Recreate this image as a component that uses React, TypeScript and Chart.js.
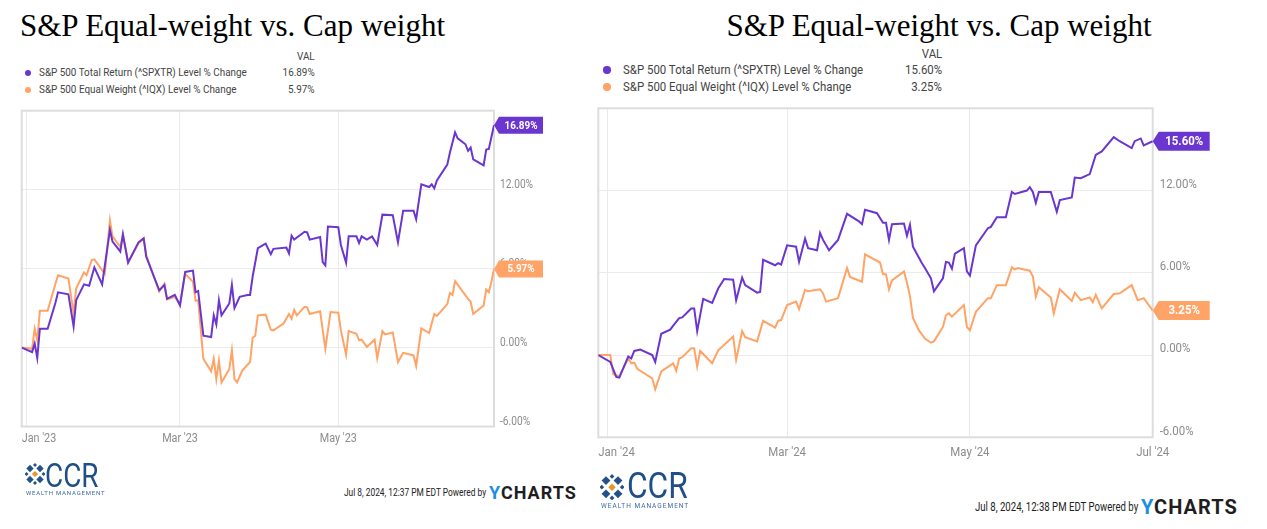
import React, { useEffect, useRef } from "react";
import { Chart, registerables } from "chart.js";

Chart.register(...registerables);

// ---------------- DATA ----------------
const chartTitle = "S&P Equal-weight vs. Cap weight";
const seriesNames = [
  "S&P 500 Total Return (^SPXTR) Level % Change",
  "S&P 500 Equal Weight (^IQX) Level % Change",
];
const yTickValues = [-6, 0, 6, 12, 18];

// 2023 panel (x = calendar days after Jan 1, 2023)
const ticks2023Days = [0, 59, 120];
const ticks2023Labels = ["Jan '23", "Mar '23", "May '23"];
const spxtr2023Days = [-2,2,3,4,5,8,11,12,16,18,19,22,24,26,29,32,33,36,37,39,43,45,46,51,53,54,57,59,61,64,65,66,68,71,72,73,74,75,78,79,80,82,85,86,87,89,92,94,95,100,101,102,103,107,108,109,113,114,115,116,120,121,123,124,127,128,129,131,133,135,137,141,143,145,149,150,152,155,156,157,158,162,163,165,166,169,170,171,172,176,177,178,180];
const spxtr2023Values = [0,-0.35,0.3,-0.8,1.43,1.43,3.4,4.2,4.05,1.6,3.6,4.8,4.7,6.1,4.8,8.95,8.05,7.3,8.6,6.45,8.0,8.3,6.9,4.35,4.75,3.7,4.0,3.2,5.75,5.85,4.2,4.3,0.9,0.8,2.45,1.75,3.6,2.45,3.35,4.75,3.0,3.85,4.0,4.0,5.4,7.55,7.9,7.1,7.5,7.6,7.15,8.5,8.2,8.8,8.75,8.2,8.4,6.5,6.25,9.2,9.15,7.8,6.45,8.45,8.45,7.95,8.45,8.2,8.45,7.8,10.1,10.05,8.0,10.4,10.4,9.75,12.4,12.2,12.4,12.1,12.7,13.9,14.8,16.35,15.9,15.45,14.95,15.2,14.3,13.85,15.05,15.1,16.89];
const iqx2023Days = [-2,2,3,4,5,8,11,12,16,18,19,22,23,25,26,30,32,33,36,37,39,43,45,46,51,53,54,57,59,61,64,65,66,68,71,72,73,74,75,78,79,80,81,83,86,87,88,89,92,94,95,99,100,101,102,103,104,107,108,109,113,115,117,120,121,123,124,127,128,129,131,134,135,137,138,141,143,145,149,150,152,155,157,158,162,163,164,165,170,171,172,176,177,178,179,180];
const iqx2023Values = [0,-0.1,1.43,0.55,2.8,2.8,4.85,5.5,5.25,2.6,4.5,5.7,5.5,6.65,6.7,5.6,9.65,8.45,7.65,8.55,6.5,7.9,8.3,7.0,4.25,4.85,3.65,3.85,3.3,5.6,5.0,3.55,3.6,-0.85,-1.8,-0.85,-2.4,-1.0,-2.65,-1.65,-0.2,-2.4,-2.65,-1.75,-1.1,0.75,0.9,2.45,2.5,1.35,1.3,1.85,2.2,2.55,2.2,2.85,2.45,3.1,3.05,2.55,2.75,-0.1,2.7,2.65,1.3,-0.55,1.25,1.05,0.55,0.6,0.05,0.6,-0.8,1.25,1.0,1.15,-1.1,-0.4,-0.6,-1.4,1.45,1.1,2.55,2.4,3.3,4.15,4.0,5.05,3.7,3.5,2.55,3.2,4.4,4.2,5.0,5.97];

// 2024 panel (x = calendar days after Jan 1, 2024)
const ticks2024Days = [0, 60, 121, 182];
const ticks2024Labels = ["Jan '24", "Mar '24", "May '24", "Jul '24"];
const spxtr2024Days = [-3,1,3,4,7,8,9,11,15,16,18,21,22,24,25,28,29,30,32,35,37,39,42,43,45,46,50,51,52,56,57,58,60,63,64,66,67,70,71,72,74,77,80,84,85,86,90,92,93,94,95,99,100,101,102,105,106,108,109,112,113,114,115,116,119,120,121,123,127,128,130,133,135,136,140,141,142,143,144,148,150,151,155,156,158,161,163,165,169,171,175,176,178,179,182];
const spxtr2024Values = [0,-0.5,-1.6,-1.65,-0.1,-0.25,0.3,0.4,0,-0.5,1.55,1.85,2.15,2.7,2.75,3.4,3.4,1.75,4.1,3.8,4.85,5.55,5.5,4.0,5.65,5.1,4.55,4.6,6.95,6.55,6.7,6.6,8.0,7.9,6.8,8.5,7.8,7.65,8.9,8.4,7.65,8.4,10.3,9.75,9.55,10.6,10.35,9.65,9.65,8.4,9.55,9.6,8.7,9.5,7.9,6.7,6.35,5.6,4.65,5.6,6.8,6.75,6.3,7.4,7.8,6.1,5.8,8.0,9.25,9.35,10.05,10.05,11.9,11.75,12.0,12.25,11.9,11.1,11.9,11.9,10.45,11.3,11.5,12.95,12.9,13.2,14.6,14.85,15.9,15.6,15.1,15.6,15.8,15.3,15.6];
const iqx2024Days = [-3,1,2,4,7,8,9,10,15,16,18,21,22,23,24,25,28,29,30,31,35,37,42,43,45,46,50,52,56,57,58,60,63,64,66,67,71,72,73,77,80,81,85,86,91,92,93,94,95,99,100,101,102,104,106,108,109,112,113,114,115,119,120,121,123,127,128,130,133,135,136,137,141,142,143,144,148,149,151,155,156,158,161,162,163,165,169,171,175,177,179,182];
const iqx2024Values = [0,0,-1.4,-1.55,-0.25,-0.6,-0.55,-1.0,-1.7,-2.5,-1.2,-0.75,-0.6,-1.15,-0.25,-0.15,0.5,0.5,-0.85,0.3,-0.6,0.35,1.35,-0.35,1.75,1.3,1.0,2.5,2.0,2.5,2.55,3.65,3.9,3.35,4.75,4.65,4.8,4.5,3.9,4.15,6.35,5.7,5.35,7.35,6.75,5.9,5.9,4.8,5.45,6.1,5.3,4.3,2.7,1.8,1.2,0.9,1.0,2.05,2.9,3.05,2.8,3.65,2.05,1.8,3.15,4.15,4.15,5.1,5.1,6.4,6.25,6.35,6.15,5.75,4.25,4.95,4.2,3.05,4.8,3.95,4.55,4.0,4.2,3.85,4.4,3.4,4.45,4.5,5.1,4.0,4.15,3.25];

const footerStamps = ["Jul 8, 2024, 12:37 PM EDT Powered by", "Jul 8, 2024, 12:38 PM EDT Powered by"];

// ---------------- STYLE ----------------
const PURPLE = "#6a36cf";
const ORANGE = "#ffa366";
const GRID = "#ebebeb";
const FRAME = "#dddddd";
const TICK_COLOR = "#8c8c8c";

type PanelSpec = {
  canvas: { left: number; top: number; width: number; height: number };
  padding: { left: number; top: number; right: number; bottom: number };
  xMin: number;
  xMax: number;
  tickDays: number[];
  tickLabels: string[];
  series: { days: number[]; values: number[]; color: string }[];
  lineWidth: number;
  yFont: number;
  ySx: number;
  yDx: number;
  yDy: number;
  xFont: number;
  xSx: number;
  xDy: number;
  tagGap: number;
  tagW: number;
  tagH: number;
  tagFont: number;
  tagSx: number;
};

function drawText(
  ctx: CanvasRenderingContext2D,
  text: string,
  x: number,
  y: number,
  font: string,
  color: string,
  align: CanvasTextAlign,
  sx: number
) {
  ctx.save();
  ctx.translate(x, y);
  ctx.scale(sx, 1);
  ctx.font = font;
  ctx.fillStyle = color;
  ctx.textAlign = align;
  ctx.textBaseline = "middle";
  ctx.fillText(text, 0, 0);
  ctx.restore();
}

function Panel({ spec }: { spec: PanelSpec }) {
  const ref = useRef<HTMLCanvasElement | null>(null);
  useEffect(() => {
    if (!ref.current) return;
    const decor = {
      id: "decor",
      beforeDatasetsDraw(chart: any) {
        const { ctx, chartArea: a } = chart;
        ctx.save();
        ctx.strokeStyle = FRAME;
        ctx.lineWidth = 2;
        ctx.strokeRect(a.left, a.top, a.right - a.left, a.bottom - a.top);
        ctx.restore();
      },
      afterDraw(chart: any) {
        const { ctx, chartArea: a } = chart;
        const ys = chart.scales.y;
        const xs = chart.scales.x;
        // y tick labels (right side, above gridline)
        yTickValues.forEach((v) => {
          if (v >= 18) return;
          const py = ys.getPixelForValue(v);
          drawText(ctx, `${v.toFixed(2)}%`, a.right + spec.yDx, py + spec.yDy, `${spec.yFont}px Roboto`, TICK_COLOR, "left", spec.ySx);
        });
        // x tick labels
        spec.tickDays.forEach((d, i) => {
          const px = xs.getPixelForValue(d);
          const font = `${spec.xFont}px Roboto`;
          ctx.save();
          ctx.font = font;
          const w = ctx.measureText(spec.tickLabels[i]).width * spec.xSx;
          ctx.restore();
          let left = px - w / 2;
          if (left < a.left) left = a.left;
          drawText(ctx, spec.tickLabels[i], left, a.bottom + spec.xDy, font, TICK_COLOR, "left", spec.xSx);
        });
        // value tags
        chart.data.datasets.forEach((ds: any, i: number) => {
          const meta = chart.getDatasetMeta(i);
          const pt = meta.data[meta.data.length - 1];
          if (!pt) return;
          const tip = pt.x;
          const y = pt.y;
          const g = spec.tagGap;
          const h = spec.tagH / 2;
          ctx.save();
          ctx.fillStyle = ds.borderColor;
          ctx.beginPath();
          ctx.moveTo(tip, y);
          ctx.lineTo(tip + g, y - h);
          ctx.lineTo(tip + g + spec.tagW, y - h);
          ctx.lineTo(tip + g + spec.tagW, y + h);
          ctx.lineTo(tip + g, y + h);
          ctx.closePath();
          ctx.fill();
          ctx.restore();
          const last = ds.data[ds.data.length - 1].y;
          drawText(ctx, `${last.toFixed(2)}%`, tip + g + spec.tagW / 2, y + 0.5, `bold ${spec.tagFont}px Roboto`, "#ffffff", "center", spec.tagSx);
        });
      },
    };
    const chart = new Chart(ref.current, {
      type: "line",
      data: {
        datasets: spec.series.map((s) => ({
          data: s.days.map((d, i) => ({ x: d, y: s.values[i] })),
          borderColor: s.color,
          backgroundColor: s.color,
          borderWidth: spec.lineWidth,
          pointRadius: 0,
          tension: 0,
          fill: false,
        })),
      },
      options: {
        responsive: false,
        maintainAspectRatio: false,
        animation: false,
        events: [],
        layout: { padding: spec.padding },
        plugins: { legend: { display: false }, tooltip: { enabled: false } },
        scales: {
          x: {
            type: "linear",
            min: spec.xMin,
            max: spec.xMax,
            ticks: { display: false },
            grid: { color: GRID, lineWidth: 1, drawTicks: false },
            border: { display: false },
            afterBuildTicks: (sc: any) => {
              sc.ticks = spec.tickDays.map((v) => ({ value: v }));
            },
          },
          y: {
            type: "linear",
            position: "right",
            min: -6,
            max: 18,
            ticks: { display: false },
            grid: { color: GRID, lineWidth: 1, drawTicks: false },
            border: { display: false },
            afterBuildTicks: (sc: any) => {
              sc.ticks = yTickValues.map((v) => ({ value: v }));
            },
          },
        },
      },
      plugins: [decor],
    } as any);
    return () => chart.destroy();
  }, [spec]);
  return (
    <canvas
      ref={ref}
      width={spec.canvas.width}
      height={spec.canvas.height}
      style={{ position: "absolute", left: spec.canvas.left, top: spec.canvas.top, width: spec.canvas.width, height: spec.canvas.height }}
    />
  );
}

type TxtProps = {
  x: number;
  y: number;
  text: React.ReactNode;
  size: number;
  color?: string;
  weight?: number;
  sx?: number;
  align?: "left" | "right" | "center";
  family?: string;
  ls?: number;
};

function Txt({ x, y, text, size, color = "#333", weight = 400, sx = 1, align = "left", family = "Roboto", ls = 0 }: TxtProps) {
  const style: React.CSSProperties = {
    position: "absolute",
    top: y - 0.6 * size,
    fontFamily: family,
    fontSize: size,
    lineHeight: `${1.2 * size}px`,
    color,
    fontWeight: weight,
    whiteSpace: "nowrap",
    letterSpacing: ls,
  };
  if (align === "left") {
    style.left = x;
    style.transform = `scaleX(${sx})`;
    style.transformOrigin = "left center";
  } else if (align === "right") {
    style.right = 1267 - x;
    style.transform = `scaleX(${sx})`;
    style.transformOrigin = "right center";
  } else {
    style.left = x;
    style.transform = `translateX(-50%) scaleX(${sx})`;
  }
  return <div style={style}>{text}</div>;
}

function Dot({ x, y, r, color }: { x: number; y: number; r: number; color: string }) {
  return <div style={{ position: "absolute", left: x - r, top: y - r, width: 2 * r, height: 2 * r, borderRadius: "50%", background: color }} />;
}

function Legend({ x0, dotX, textX, valRight, valY, rowYs, size, sx, values }: any) {
  return (
    <>
      <Txt x={valRight} y={valY} text="VAL" size={size} sx={sx} align="right" color="#444" />
      {seriesNames.map((n, i) => (
        <React.Fragment key={n}>
          <Dot x={dotX} y={rowYs[i]} r={size * 0.28} color={i === 0 ? PURPLE : ORANGE} />
          <Txt x={textX} y={rowYs[i]} text={n} size={size} sx={sx} color="#444" />
          <Txt x={valRight} y={rowYs[i]} text={`${values[i].toFixed(2)}%`} size={size} sx={sx} align="right" color="#444" />
        </React.Fragment>
      ))}
    </>
  );
}

function CcrIcon({ x, y, s }: { x: number; y: number; s: number }) {
  const navy = "#24518a";
  const d = (cx: number, cy: number, r: number, c: string, k: string) => (
    <rect key={k} x={cx - r} y={cy - r} width={2 * r} height={2 * r} fill={c} transform={`rotate(45 ${cx} ${cy})`} />
  );
  return (
    <svg style={{ position: "absolute", left: x, top: y }} width={20 * s} height={22 * s} viewBox="0 0 20 22">
      {d(5, 5.5, 2.6, navy, "a")}
      {d(15, 5.5, 2.6, navy, "b")}
      {d(5, 16.5, 2.6, navy, "c")}
      {d(15, 16.5, 2.6, navy, "d")}
      {d(10, 2, 1.4, navy, "e")}
      {d(10, 20, 1.4, navy, "f")}
      {d(1.5, 11, 1.4, navy, "g")}
      {d(18.5, 11, 1.4, navy, "h")}
      {d(10, 11, 2.2, "#e8952f", "i")}
    </svg>
  );
}

function Footer({ iconX, iconY, iconS, ccrX, ccrY, ccrSize, ccrSx, wmX, wmY, wmSize, wmLs, stamp, stampX, stampY, stampSize, stampSx, ycX, ycSize }: any) {
  return (
    <>
      <CcrIcon x={iconX} y={iconY} s={iconS} />
      <Txt x={ccrX} y={ccrY} text="CCR" size={ccrSize} sx={ccrSx} color="#1f4f86" />
      <Txt x={wmX} y={wmY} text="WEALTH MANAGEMENT" size={wmSize} ls={wmLs} color="#3d6ca3" />
      <Txt x={stampX} y={stampY} text={stamp} size={stampSize} sx={stampSx} color="#222" />
      <Txt
        x={ycX}
        y={stampY}
        size={ycSize}
        weight={700}
        ls={1}
        color="#1e1e1e"
        text={
          <>
            <span style={{ color: "#1d8fe0" }}>Y</span>CHARTS
          </>
        }
      />
    </>
  );
}

const leftSpec: PanelSpec = {
  canvas: { left: 0, top: 95, width: 560, height: 365 },
  padding: { left: 21.7, top: 15.7, right: 66, bottom: 33.5 },
  xMin: -2,
  xMax: 180,
  tickDays: ticks2023Days,
  tickLabels: ticks2023Labels,
  series: [
    { days: spxtr2023Days, values: spxtr2023Values, color: PURPLE },
    { days: iqx2023Days, values: iqx2023Values, color: ORANGE },
  ],
  lineWidth: 2,
  yFont: 12,
  ySx: 0.85,
  yDx: 6,
  yDy: -5,
  xFont: 12,
  xSx: 0.9,
  xDy: 12,
  tagGap: 5,
  tagW: 44,
  tagH: 17,
  tagFont: 11,
  tagSx: 0.9,
};

const rightSpec: PanelSpec = {
  canvas: { left: 580, top: 95, width: 687, height: 380 },
  padding: { left: 18.3, top: 13.3, right: 114.3, bottom: 37.7 },
  xMin: -3,
  xMax: 182,
  tickDays: ticks2024Days,
  tickLabels: ticks2024Labels,
  series: [
    { days: spxtr2024Days, values: spxtr2024Values, color: PURPLE },
    { days: iqx2024Days, values: iqx2024Values, color: ORANGE },
  ],
  lineWidth: 2,
  yFont: 13,
  ySx: 0.88,
  yDx: 7,
  yDy: -6,
  xFont: 13,
  xSx: 0.88,
  xDy: 15,
  tagGap: 6,
  tagW: 51,
  tagH: 19,
  tagFont: 12,
  tagSx: 0.95,
};

export default function App() {
  return (
    <div style={{ position: "absolute", left: 0, top: 0, width: 1267, height: 529, background: "#ffffff", overflow: "hidden" }}>
      <Txt x={232.5} y={25.5} text={chartTitle} size={31} family="'Liberation Serif', serif" color="#000" align="center" />
      <Txt x={939} y={25.5} text={chartTitle} size={31} family="'Liberation Serif', serif" color="#000" align="center" />

      <Legend dotX={28} textX={39} valRight={315} valY={57} rowYs={[73, 90]} size={11} sx={0.9} values={[spxtr2023Values[spxtr2023Values.length - 1], iqx2023Values[iqx2023Values.length - 1]]} />
      <Legend dotX={607} textX={623} valRight={942} valY={54} rowYs={[70, 87]} size={13} sx={0.88} values={[spxtr2024Values[spxtr2024Values.length - 1], iqx2024Values[iqx2024Values.length - 1]]} />

      <Panel spec={leftSpec} />
      <Panel spec={rightSpec} />

      <Footer iconX={25} iconY={463} iconS={1} ccrX={45} ccrY={475} ccrSize={34} ccrSx={0.82} wmX={26} wmY={493} wmSize={6} wmLs={0.8} stamp={footerStamps[0]} stampX={344} stampY={493} stampSize={11} stampSx={0.76} ycX={489} ycSize={18} />
      <Footer iconX={600} iconY={474} iconS={1.2} ccrX={627} ccrY={487} ccrSize={36} ccrSx={0.88} wmX={601} wmY={507} wmSize={6.5} wmLs={1} stamp={footerStamps[1]} stampX={975} stampY={507} stampSize={12} stampSx={0.8} ycX={1141} ycSize={20} />
    </div>
  );
}
